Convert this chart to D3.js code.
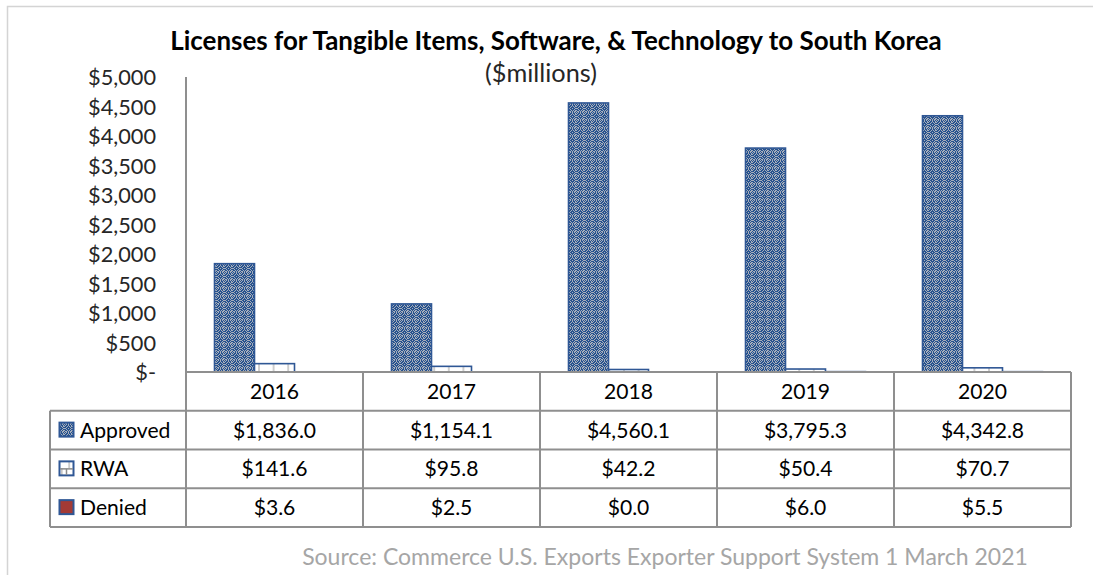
<!DOCTYPE html>
<html>
<head>
<meta charset="utf-8">
<script src="https://cdn.jsdelivr.net/npm/d3@7"></script>
<style>
  html, body { margin: 0; padding: 0; background: #fff; }
  svg { display: block; }
  text { font-family: Lato, "Open Sans", sans-serif; }
</style>
</head>
<body>
<svg id="chart" width="1093" height="575"></svg>
<script>
// ---- data ----
const years = ["2016", "2017", "2018", "2019", "2020"];
const seriesNames = ["Approved", "RWA", "Denied"];
const approved = [1836.0, 1154.1, 4560.1, 3795.3, 4342.8];
const rwa = [141.6, 95.8, 42.2, 50.4, 70.7];
const denied = [3.6, 2.5, 0.0, 6.0, 5.5];
const yTicks = [0, 500, 1000, 1500, 2000, 2500, 3000, 3500, 4000, 4500, 5000];
const titleText = "Licenses for Tangible Items, Software, & Technology to South Korea";
const subtitleText = "($millions)";
const sourceText = "Source: Commerce U.S. Exports Exporter Support System 1 March 2021";

const values = { Approved: approved, RWA: rwa, Denied: denied };

const svg = d3.select("#chart");
const BLUE = "#2f5795";
const GRID = "#8f8f8f";

// measure helper: font size so text has target width
function fitSize(text, target, weight) {
  const t = svg.append("text").attr("font-size", 100).attr("font-weight", weight || "normal").text(text);
  const w = t.node().getComputedTextLength();
  t.remove();
  return 100 * target / w;
}

// ---- patterns ----
const defs = svg.append("defs");
const pA = defs.append("pattern").attr("id", "patApproved").attr("patternUnits", "userSpaceOnUse")
  .attr("width", 8).attr("height", 8);
pA.append("rect").attr("width", 8).attr("height", 8).attr("fill", "#26528f");
const greyPix = [[0,0],[2,0],[4,0],[6,0],[0,2],[0,4],[0,6],[3,2],[5,2],[2,3],[6,3],[2,5],[6,5],[3,6],[5,6],[4,4],[2,7],[6,7],[7,2],[7,6],[1,4],[4,1],[4,7],[7,4],[1,1],[1,7],[7,1],[7,7]];
greyPix.forEach(([x, y]) => pA.append("rect").attr("x", x).attr("y", y).attr("width", 1).attr("height", 1).attr("fill", "#a7aeba"));

const pR = defs.append("pattern").attr("id", "patRWA").attr("patternUnits", "userSpaceOnUse")
  .attr("width", 14.6).attr("height", 24).attr("x", 3).attr("y", 372);
pR.append("rect").attr("width", 14.6).attr("height", 24).attr("fill", "#fff");
pR.append("line").attr("x1", 0).attr("x2", 14.6).attr("y1", 12).attr("y2", 12).attr("stroke", "#a0a0a0").attr("stroke-width", 1);
pR.append("line").attr("x1", 0.5).attr("x2", 0.5).attr("y1", 0).attr("y2", 12).attr("stroke", "#a0a0a0").attr("stroke-width", 1);
pR.append("line").attr("x1", 7.8).attr("x2", 7.8).attr("y1", 12).attr("y2", 24).attr("stroke", "#a0a0a0").attr("stroke-width", 1);

const fills = { Approved: "url(#patApproved)", RWA: "url(#patRWA)", Denied: "#a33a35" };

// ---- frame ----
svg.append("rect").attr("x", 7.5).attr("y", 6.5).attr("width", 1200).attr("height", 700)
  .attr("fill", "none").attr("stroke", "#d4d4d4").attr("stroke-width", 1.5);

// ---- scales ----
const x = d3.scaleBand().domain(years).range([186, 1071]).padding(0);
const xs = d3.scaleBand().domain(seriesNames).range([0, x.bandwidth()]).paddingInner(0).paddingOuter(0.7125);
const y = d3.scaleLinear().domain([0, 5000]).range([372, 77]);
const rows = d3.scaleBand().domain(["year"].concat(seriesNames)).range([372, 527]);

// ---- title ----
svg.append("text").attr("x", 556).attr("y", 50).attr("text-anchor", "middle")
  .attr("font-weight", "bold").attr("fill", "#000")
  .attr("font-size", fitSize(titleText, 772, "bold")).text(titleText);
svg.append("text").attr("x", 541).attr("y", 82).attr("text-anchor", "middle")
  .attr("fill", "#262626").attr("font-size", fitSize(subtitleText, 112)).text(subtitleText);

// ---- y axis ----
const tickSize = fitSize("$5,000", 68);
const fmtTick = v => v === 0 ? "$-" : "$" + d3.format(",")(v);
const yAxis = d3.axisLeft(y).tickValues(yTicks).tickSize(0).tickPadding(0).tickFormat(fmtTick);
const gy = svg.append("g").attr("transform", "translate(156,0)").call(yAxis);
gy.select(".domain").remove();
gy.selectAll("text").attr("font-size", tickSize).attr("fill", "#262626")
  .attr("font-family", "Lato, 'Open Sans', sans-serif").attr("dy", "0.35em");

svg.append("line").attr("x1", 186).attr("x2", 186).attr("y1", 77).attr("y2", 372)
  .attr("stroke", GRID).attr("stroke-width", 2);

// ---- bars ----
const barData = [];
years.forEach((yr, i) => seriesNames.forEach(s => barData.push({ year: yr, series: s, value: values[s][i] })));
svg.append("g").selectAll("rect").data(barData).join("rect")
  .attr("x", d => x(d.year) + xs(d.series))
  .attr("width", xs.bandwidth())
  .attr("y", d => y(d.value))
  .attr("height", d => y(0) - y(d.value))
  .attr("fill", d => fills[d.series])
  .attr("stroke", BLUE).attr("stroke-width", 1.6);

// ---- data table ----
const tg = svg.append("g");
const tableFont = fitSize("2016", 49);
const rowMid = r => rows(r) + rows.bandwidth() / 2;

// horizontal lines
tg.append("line").attr("x1", 186).attr("x2", 1071).attr("y1", 372).attr("y2", 372).attr("stroke", GRID).attr("stroke-width", 2);
seriesNames.forEach(s => {
  tg.append("line").attr("x1", 50).attr("x2", 1071).attr("y1", rows(s)).attr("y2", rows(s)).attr("stroke", GRID).attr("stroke-width", 2);
});
tg.append("line").attr("x1", 50).attr("x2", 1071).attr("y1", 527).attr("y2", 527).attr("stroke", GRID).attr("stroke-width", 2);
// vertical lines
tg.append("line").attr("x1", 50).attr("x2", 50).attr("y1", rows("Approved")).attr("y2", 527).attr("stroke", GRID).attr("stroke-width", 2);
years.forEach(yr => {
  tg.append("line").attr("x1", x(yr)).attr("x2", x(yr)).attr("y1", 372).attr("y2", 527).attr("stroke", GRID).attr("stroke-width", 2);
});
tg.append("line").attr("x1", 1071).attr("x2", 1071).attr("y1", 372).attr("y2", 527).attr("stroke", GRID).attr("stroke-width", 2);

// year labels
tg.selectAll(".yr").data(years).join("text")
  .attr("x", d => x(d) + x.bandwidth() / 2).attr("y", rowMid("year")).attr("dy", "0.36em")
  .attr("text-anchor", "middle").attr("font-size", tableFont).attr("fill", "#000").text(d => d);

// values
const fmtVal = v => "$" + d3.format(",.1f")(v);
seriesNames.forEach(s => {
  tg.selectAll(".v" + s).data(values[s]).join("text")
    .attr("x", (d, i) => x(years[i]) + x.bandwidth() / 2).attr("y", rowMid(s)).attr("dy", "0.36em")
    .attr("text-anchor", "middle").attr("font-size", tableFont).attr("fill", "#000").text(d => fmtVal(d));
  // legend key
  tg.append("rect").attr("x", 59.5).attr("y", rowMid(s) - 7.5).attr("width", 14).attr("height", 14)
    .attr("fill", fills[s]).attr("stroke", BLUE).attr("stroke-width", 2);
  tg.append("text").attr("x", 80).attr("y", rowMid(s)).attr("dy", "0.36em")
    .attr("font-size", tableFont).attr("fill", "#000").text(s);
});
// RWA legend key detail
const rk = rowMid("RWA");
tg.append("line").attr("x1", 60).attr("x2", 73).attr("y1", rk).attr("y2", rk).attr("stroke", "#8a8a8a").attr("stroke-width", 1.5);
tg.append("line").attr("x1", 66.5).attr("x2", 66.5).attr("y1", rk).attr("y2", rk + 6).attr("stroke", "#8a8a8a").attr("stroke-width", 1.5);

// ---- source ----
svg.append("text").attr("x", 665).attr("y", 565).attr("text-anchor", "middle")
  .attr("fill", "#a6a6a6").attr("font-size", fitSize(sourceText, 726)).text(sourceText);
</script>
</body>
</html>
